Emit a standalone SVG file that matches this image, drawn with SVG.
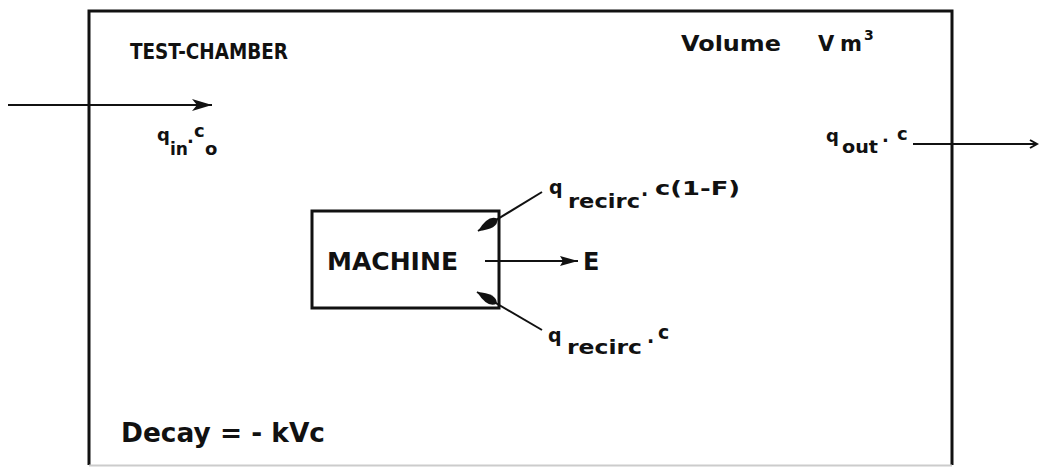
<svg xmlns="http://www.w3.org/2000/svg" width="1039" height="467" viewBox="0 0 1039 467">
<style>
  .t{font-family:"DejaVu Sans","Liberation Sans",sans-serif;font-weight:bold;fill:#111}
  .box{fill:none;stroke:#111;stroke-width:3}
  .ln{fill:none;stroke:#111;stroke-width:2}
</style>
<defs>
  <marker id="arrow" markerUnits="userSpaceOnUse" markerWidth="22" markerHeight="14" refX="20" refY="7" orient="auto">
    <path d="M0,1 L20,7 L0,13 L5,7 z" fill="#111"/>
  </marker>
  <marker id="arrowS" markerUnits="userSpaceOnUse" markerWidth="20" markerHeight="12" refX="18" refY="6" orient="auto">
    <path d="M0,1 L18,6 L0,11 L3,6 z" fill="#111"/>
  </marker>
  <marker id="leaf" markerUnits="userSpaceOnUse" markerWidth="26" markerHeight="16" refX="23" refY="8" orient="auto">
    <path d="M0,8 Q5,-1 23,8 Q5,17 0,8 z" fill="#111"/>
  </marker>
  <marker id="tiny" markerUnits="userSpaceOnUse" markerWidth="10" markerHeight="10" refX="8" refY="5" orient="auto">
    <path d="M1,1 L8,5 L1,9" fill="none" stroke="#111" stroke-width="2"/>
  </marker>
</defs>

<g id="chamber">
  <path class="box" d="M89,465 L89,11 L952,11 L952,465"/>
  <line x1="89" y1="465.5" x2="952" y2="465.5" stroke="#ccc" stroke-width="2"/>
  <text class="t" x="130" y="59" font-size="22" textLength="158" lengthAdjust="spacingAndGlyphs">TEST-CHAMBER</text>
  <text class="t" font-size="21"><tspan x="681" y="51" textLength="100" lengthAdjust="spacingAndGlyphs">Volume</tspan><tspan x="818" y="51">V</tspan><tspan x="840" y="51" textLength="22" lengthAdjust="spacingAndGlyphs">m</tspan><tspan x="864" y="40" font-size="14">3</tspan></text>
  <text class="t" x="121" y="442" font-size="26" textLength="204" lengthAdjust="spacingAndGlyphs">Decay = - kVc</text>
</g>

<g id="machine">
  <rect class="box" x="312" y="211" width="187" height="97"/>
  <text class="t" x="327" y="270" font-size="24" textLength="131" lengthAdjust="spacingAndGlyphs">MACHINE</text>
</g>

<g id="emission">
  <text class="t" x="583" y="270" font-size="24">E</text>
</g>

<g id="labels">
  <text class="t" font-size="18"><tspan x="157" y="141">q</tspan><tspan x="170" y="155" textLength="18" lengthAdjust="spacingAndGlyphs">in</tspan><tspan x="187" y="148">·</tspan><tspan x="194" y="137">c</tspan><tspan x="205" y="155">o</tspan></text>
  <text class="t" font-size="18"><tspan x="826" y="142">q</tspan><tspan x="842" y="153" textLength="36" lengthAdjust="spacingAndGlyphs">out</tspan><tspan x="882" y="147">·</tspan><tspan x="897" y="140">c</tspan></text>
  <text class="t" font-size="19"><tspan x="549" y="194">q</tspan><tspan x="568" y="208" textLength="72" lengthAdjust="spacingAndGlyphs">recirc</tspan><tspan x="641" y="201">·</tspan><tspan x="655" y="195" textLength="85" lengthAdjust="spacingAndGlyphs">c(1-F)</tspan></text>
  <text class="t" font-size="19"><tspan x="548" y="342">q</tspan><tspan x="567" y="354" textLength="75" lengthAdjust="spacingAndGlyphs">recirc</tspan><tspan x="647" y="348">·</tspan><tspan x="658" y="339">c</tspan></text>
</g>

<g id="connectors">
  <line class="ln" x1="8" y1="105" x2="212" y2="105" marker-end="url(#arrow)"/>
  <line class="ln" x1="913" y1="144" x2="1037" y2="144" marker-end="url(#tiny)"/>
  <line class="ln" x1="485" y1="261" x2="578" y2="261" marker-end="url(#arrowS)"/>
  <line class="ln" x1="542" y1="192" x2="478" y2="231" marker-end="url(#leaf)"/>
  <line class="ln" x1="542" y1="330" x2="477" y2="292" marker-end="url(#leaf)"/>
</g>
</svg>
